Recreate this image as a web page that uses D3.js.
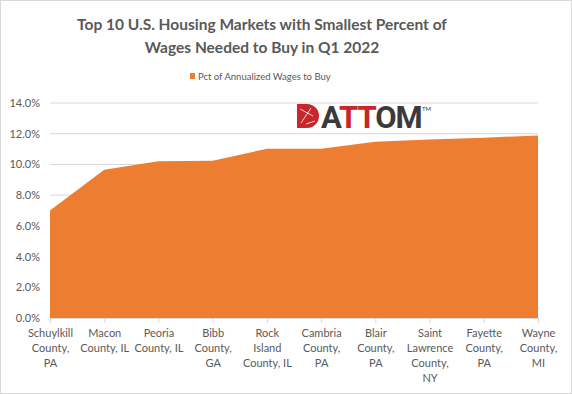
<!DOCTYPE html>
<html>
<head>
<meta charset="utf-8">
<script src="https://cdn.jsdelivr.net/npm/d3@7"></script>
<style>
  body { margin: 0; background: #fff; }
  svg { display: block; font-family: Lato, "Open Sans", sans-serif; }
</style>
</head>
<body>
<div id="chart"></div>
<script>
// chart data
const counties = [
  ["Schuylkill", "County,", "PA"],
  ["Macon", "County, IL"],
  ["Peoria", "County, IL"],
  ["Bibb", "County,", "GA"],
  ["Rock", "Island", "County, IL"],
  ["Cambria", "County,", "PA"],
  ["Blair", "County,", "PA"],
  ["Saint", "Lawrence", "County,", "NY"],
  ["Fayette", "County,", "PA"],
  ["Wayne", "County,", "MI"]
];
const pctWages = [0.070, 0.0965, 0.102, 0.1024, 0.1102, 0.1102, 0.1148, 0.1162, 0.1174, 0.1189];
const yTicks = [0, 0.02, 0.04, 0.06, 0.08, 0.10, 0.12, 0.14];

const W = 572, H = 394;
const margin = { top: 103, right: 34, bottom: 76, left: 50 };
const width = W - margin.left - margin.right,
  height = H - margin.top - margin.bottom;
const textCol = "#595959";

var svg = d3.select("#chart").append("svg")
  .attr("width", W).attr("height", H);

// outer border
svg.append("rect")
  .attr("x", 0.5).attr("y", 0.5)
  .attr("width", W - 1).attr("height", H - 1)
  .attr("fill", "#fff").attr("stroke", "#d9d9d9");

// title
svg.append("text")
  .attr("x", 262).attr("y", 30)
  .attr("text-anchor", "middle")
  .attr("font-size", 15.5).attr("font-weight", "bold")
  .attr("fill", textCol)
  .selectAll("tspan")
  .data(["Top 10 U.S. Housing Markets with Smallest Percent of", "Wages Needed to Buy in Q1 2022"])
  .enter().append("tspan")
  .attr("x", 262)
  .attr("dy", (d, i) => i ? 23 : 0)
  .text(d => d);

// legend
svg.append("rect")
  .attr("x", 190).attr("y", 73).attr("width", 5).attr("height", 6)
  .attr("fill", "#ED7D31");
svg.append("text")
  .attr("x", 198).attr("y", 80)
  .attr("font-size", 9.5).attr("fill", textCol)
  .text("Pct of Annualized Wages to Buy");

var g = svg.append("g")
  .attr("transform", "translate(" + margin.left + "," + margin.top + ")");

var x = d3.scalePoint()
  .domain(d3.range(counties.length))
  .range([0, width]);

var y = d3.scaleLinear()
  .domain([0, 0.14])
  .range([height, 0]);

// gridlines
g.append("g")
  .selectAll("line")
  .data(yTicks.slice(1))
  .enter().append("line")
  .attr("x1", 0).attr("x2", width)
  .attr("y1", d => y(d)).attr("y2", d => y(d))
  .attr("stroke", "#d9d9d9");

// area
g.append("path")
  .datum(pctWages)
  .attr("fill", "#ED7D31")
  .attr("d", d3.area()
    .x((d, i) => x(i))
    .y0(height)
    .y1(d => y(d)));

// y axis
var yAxis = g.append("g")
  .call(d3.axisLeft(y).tickValues(yTicks).tickFormat(d3.format(".1%")).tickSize(0).tickPadding(10));
yAxis.select(".domain").remove();
yAxis.selectAll("text")
  .attr("font-size", 11).attr("fill", textCol)
  .attr("font-family", "Lato, 'Open Sans', sans-serif");

// x axis
var xAxis = g.append("g")
  .attr("transform", "translate(0," + height + ")")
  .call(d3.axisBottom(x).tickSize(5).tickFormat(""));
xAxis.select(".domain").attr("stroke", "#d9d9d9");
xAxis.selectAll(".tick line").attr("stroke", "#d9d9d9");

xAxis.selectAll(".tick")
  .append("text")
  .attr("fill", textCol)
  .attr("font-size", 11)
  .attr("text-anchor", "middle")
  .attr("font-family", "Lato, 'Open Sans', sans-serif")
  .selectAll("tspan")
  .data(i => counties[i])
  .enter().append("tspan")
  .attr("x", 0)
  .attr("y", (d, j) => 19 + j * 15)
  .text(d => d);

// ATTOM logo
var logo = svg.append("g").attr("transform", "translate(297,104)");
logo.append("path")
  .attr("d", "M0,0 L10,0 A12,12 0 0 1 10,24 L0,24 Z")
  .attr("fill", "#c8262c");
logo.append("path")
  .attr("d", "M3,5 L16,12 M4,19 L14,4 M9,20 L18,17")
  .attr("stroke", "#fff").attr("stroke-width", 1).attr("fill", "none").attr("opacity", 0.8);
var lt = logo.append("text")
  .attr("x", 24).attr("y", 24)
  .attr("font-size", 31).attr("font-weight", "bold")
  .attr("font-family", "Roboto, Arial, sans-serif")
  .attr("letter-spacing", -1);
lt.append("tspan").attr("fill", "#3a3a3a").text("A");
lt.append("tspan").attr("fill", "#c8262c").text("TT");
lt.append("tspan").attr("fill", "#3a3a3a").text("OM");
logo.append("text")
  .attr("x", 125).attr("y", 7)
  .attr("font-size", 6).attr("fill", "#3a3a3a")
  .text("TM");
</script>
</body>
</html>
